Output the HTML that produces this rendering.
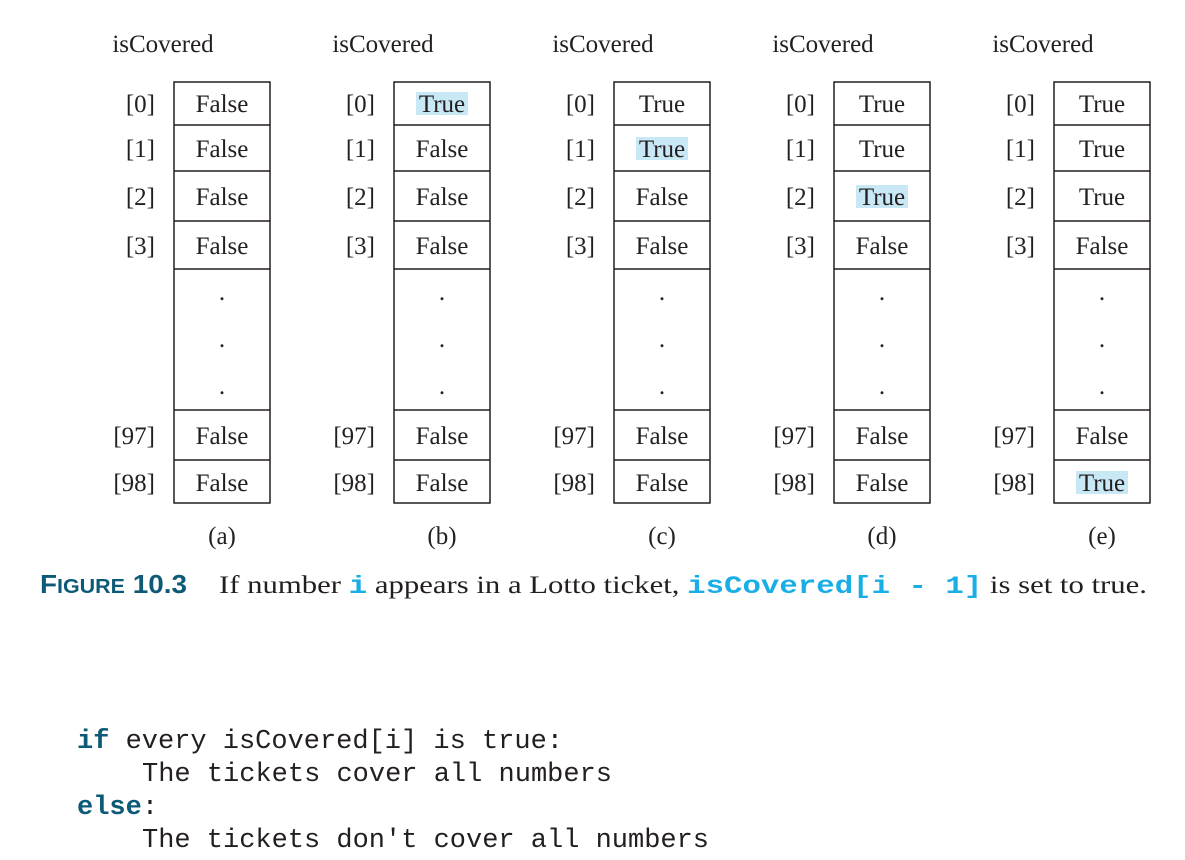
<!DOCTYPE html>
<html><head><meta charset="utf-8"><style>
html,body{margin:0;padding:0;background:#fff;}
svg{display:block}
.s{font-family:"Liberation Serif",serif;font-size:25px;fill:#231f20}
.m{font-family:"Liberation Mono",monospace;font-size:27px;fill:#231f20}
</style></head><body>
<svg width="1185" height="860" viewBox="0 0 1185 860" xmlns="http://www.w3.org/2000/svg">
<defs>
<g id="col">
  <text class="s" x="163" y="52" text-anchor="middle">isCovered</text>
  <rect x="174" y="82" width="96" height="421" fill="none" stroke="#231f20" stroke-width="1.5"/>
  <g stroke="#231f20" stroke-width="1.5">
    <line x1="174" y1="125" x2="270" y2="125"/>
    <line x1="174" y1="171" x2="270" y2="171"/>
    <line x1="174" y1="221" x2="270" y2="221"/>
    <line x1="174" y1="269" x2="270" y2="269"/>
    <line x1="174" y1="410" x2="270" y2="410"/>
    <line x1="174" y1="460" x2="270" y2="460"/>
  </g>
  <g class="s" text-anchor="end">
    <text x="155" y="112">[0]</text>
    <text x="155" y="157">[1]</text>
    <text x="155" y="205">[2]</text>
    <text x="155" y="254">[3]</text>
    <text x="155" y="444">[97]</text>
    <text x="155" y="491">[98]</text>
  </g>
  <g class="s" text-anchor="middle">
    <text x="222" y="300">.</text>
    <text x="222" y="347">.</text>
    <text x="222" y="394">.</text>
  </g>
</g>
</defs>
<!-- highlights -->
<g fill="#c9e8f6">
  <rect x="416" y="92" width="52" height="23"/>
  <rect x="636" y="137" width="52" height="23"/>
  <rect x="856" y="185" width="52" height="23"/>
  <rect x="1076" y="471" width="52" height="23"/>
</g>
<use href="#col"/>
<use href="#col" transform="translate(220,0)"/>
<use href="#col" transform="translate(440,0)"/>
<use href="#col" transform="translate(660,0)"/>
<use href="#col" transform="translate(880,0)"/>
<g class="s" text-anchor="middle">
  <!-- a -->
  <text x="222" y="112">False</text><text x="222" y="157">False</text><text x="222" y="205">False</text><text x="222" y="254">False</text><text x="222" y="444">False</text><text x="222" y="491">False</text><text x="222" y="544">(a)</text>
  <!-- b -->
  <text x="442" y="112">True</text><text x="442" y="157">False</text><text x="442" y="205">False</text><text x="442" y="254">False</text><text x="442" y="444">False</text><text x="442" y="491">False</text><text x="442" y="544">(b)</text>
  <!-- c -->
  <text x="662" y="112">True</text><text x="662" y="157">True</text><text x="662" y="205">False</text><text x="662" y="254">False</text><text x="662" y="444">False</text><text x="662" y="491">False</text><text x="662" y="544">(c)</text>
  <!-- d -->
  <text x="882" y="112">True</text><text x="882" y="157">True</text><text x="882" y="205">True</text><text x="882" y="254">False</text><text x="882" y="444">False</text><text x="882" y="491">False</text><text x="882" y="544">(d)</text>
  <!-- e -->
  <text x="1102" y="112">True</text><text x="1102" y="157">True</text><text x="1102" y="205">True</text><text x="1102" y="254">False</text><text x="1102" y="444">False</text><text x="1102" y="491">True</text><text x="1102" y="544">(e)</text>
</g>
<!-- caption -->
<text x="40" y="593" font-family="Liberation Sans,sans-serif" font-weight="bold" fill="#0d5a78" textLength="147" lengthAdjust="spacingAndGlyphs"><tspan font-size="26">F</tspan><tspan font-size="20">IGURE</tspan><tspan font-size="26"> 10.3</tspan></text>
<text x="219" y="593" class="s" font-size="27" textLength="928" lengthAdjust="spacingAndGlyphs">If number <tspan font-family="Liberation Mono,monospace" font-weight="bold" fill="#1aaee6">i</tspan> appears in a Lotto ticket, <tspan font-family="Liberation Mono,monospace" font-weight="bold" fill="#1aaee6">isCovered[i - 1]</tspan> is set to true.</text>
<!-- code -->
<text class="m" x="77" y="748" textLength="486" lengthAdjust="spacingAndGlyphs"><tspan font-weight="bold" fill="#0d5a78">if</tspan> every isCovered[i] is true:</text>
<text class="m" x="142" y="781" textLength="470" lengthAdjust="spacingAndGlyphs">The tickets cover all numbers</text>
<text class="m" x="77" y="814"><tspan font-weight="bold" fill="#0d5a78">else</tspan>:</text>
<text class="m" x="142" y="847" textLength="567" lengthAdjust="spacingAndGlyphs">The tickets don't cover all numbers</text>
</svg>
</body></html>
